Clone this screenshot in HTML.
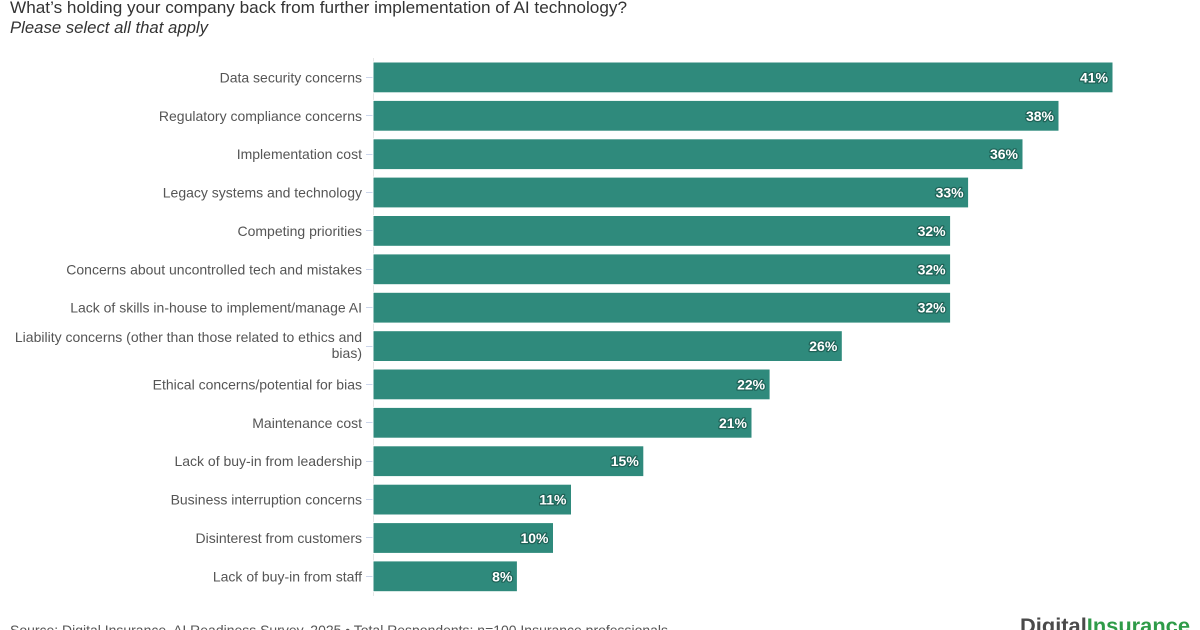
<!DOCTYPE html>
<html>
<head>
<meta charset="utf-8">
<style>
  html,body{margin:0;padding:0;background:#fff;}
  svg{display:block;}
  .cat{font-family:"Liberation Sans",sans-serif;font-size:14px;fill:#555;text-anchor:end;}
  .val{font-family:"Liberation Sans",sans-serif;font-size:14px;font-weight:bold;fill:#fff;stroke:#1f6358;stroke-width:2.5px;paint-order:stroke;stroke-linejoin:round;text-anchor:end;}
  .bar{fill:#2f8a7c;stroke:#fff;stroke-width:1;}
</style>
</head>
<body>
<svg width="1200" height="630" viewBox="0 0 1200 630" xmlns="http://www.w3.org/2000/svg">
  <rect width="1200" height="630" fill="#fff"/>
  <text x="10" y="13" font-family="Liberation Sans, sans-serif" font-size="17" fill="#333" textLength="617" lengthAdjust="spacingAndGlyphs">What’s holding your company back from further implementation of AI technology?</text>
  <text x="10" y="33" font-family="Liberation Sans, sans-serif" font-size="17" font-style="italic" fill="#333" textLength="198" lengthAdjust="spacingAndGlyphs">Please select all that apply</text>

  <!-- axis line -->
  <line x1="373.5" y1="58" x2="373.5" y2="596" stroke="#e6e6e6" stroke-width="1"/>

  <g>
    <!-- ticks -->
    <g stroke="#ccd6eb" stroke-width="1">
      <line x1="366" x2="373" y1="77.5" y2="77.5"/>
      <line x1="366" x2="373" y1="115.5" y2="115.5"/>
      <line x1="366" x2="373" y1="154.5" y2="154.5"/>
      <line x1="366" x2="373" y1="192.5" y2="192.5"/>
      <line x1="366" x2="373" y1="230.5" y2="230.5"/>
      <line x1="366" x2="373" y1="269.5" y2="269.5"/>
      <line x1="366" x2="373" y1="307.5" y2="307.5"/>
      <line x1="366" x2="373" y1="346.5" y2="346.5"/>
      <line x1="366" x2="373" y1="384.5" y2="384.5"/>
      <line x1="366" x2="373" y1="422.5" y2="422.5"/>
      <line x1="366" x2="373" y1="461.5" y2="461.5"/>
      <line x1="366" x2="373" y1="499.5" y2="499.5"/>
      <line x1="366" x2="373" y1="537.5" y2="537.5"/>
      <line x1="366" x2="373" y1="576.5" y2="576.5"/>
    </g>

    <!-- bars: x=373, width = 18.05*v -->
    <rect class="bar" x="373" y="62" width="740" height="30.8"/>
    <rect class="bar" x="373" y="100.4" width="686" height="30.8"/>
    <rect class="bar" x="373" y="138.8" width="650" height="30.8"/>
    <rect class="bar" x="373" y="177.1" width="595.6" height="30.8"/>
    <rect class="bar" x="373" y="215.5" width="577.6" height="30.8"/>
    <rect class="bar" x="373" y="253.9" width="577.6" height="30.8"/>
    <rect class="bar" x="373" y="292.3" width="577.6" height="30.8"/>
    <rect class="bar" x="373" y="330.7" width="469.3" height="30.8"/>
    <rect class="bar" x="373" y="369" width="397.1" height="30.8"/>
    <rect class="bar" x="373" y="407.4" width="379" height="30.8"/>
    <rect class="bar" x="373" y="445.8" width="270.8" height="30.8"/>
    <rect class="bar" x="373" y="484.2" width="198.5" height="30.8"/>
    <rect class="bar" x="373" y="522.6" width="180.5" height="30.8"/>
    <rect class="bar" x="373" y="560.9" width="144.4" height="30.8"/>

    <!-- values -->
    <text class="val" x="1108" y="82.5">41%</text>
    <text class="val" x="1054" y="120.8">38%</text>
    <text class="val" x="1018" y="159.2">36%</text>
    <text class="val" x="963.6" y="197.6">33%</text>
    <text class="val" x="945.6" y="236">32%</text>
    <text class="val" x="945.6" y="274.3">32%</text>
    <text class="val" x="945.6" y="312.7">32%</text>
    <text class="val" x="837.3" y="351.1">26%</text>
    <text class="val" x="765.1" y="389.5">22%</text>
    <text class="val" x="747" y="427.9">21%</text>
    <text class="val" x="638.8" y="466.2">15%</text>
    <text class="val" x="566.5" y="504.6">11%</text>
    <text class="val" x="548.5" y="543">10%</text>
    <text class="val" x="512.4" y="581.4">8%</text>

    <!-- categories -->
    <text class="cat" x="362" y="82.5">Data security concerns</text>
    <text class="cat" x="362" y="120.8">Regulatory compliance concerns</text>
    <text class="cat" x="362" y="159.2">Implementation cost</text>
    <text class="cat" x="362" y="197.6">Legacy systems and technology</text>
    <text class="cat" x="362" y="236">Competing priorities</text>
    <text class="cat" x="362" y="274.3">Concerns about uncontrolled tech and mistakes</text>
    <text class="cat" x="362" y="312.7">Lack of skills in-house to implement/manage AI</text>
    <text class="cat" x="362" y="342">Liability concerns (other than those related to ethics and</text>
    <text class="cat" x="362" y="358">bias)</text>
    <text class="cat" x="362" y="389.5">Ethical concerns/potential for bias</text>
    <text class="cat" x="362" y="427.9">Maintenance cost</text>
    <text class="cat" x="362" y="466.2">Lack of buy-in from leadership</text>
    <text class="cat" x="362" y="504.6">Business interruption concerns</text>
    <text class="cat" x="362" y="543">Disinterest from customers</text>
    <text class="cat" x="362" y="581.4">Lack of buy-in from staff</text>
  </g>

  <!-- footer -->
  <text x="10" y="635" font-family="Liberation Sans, sans-serif" font-size="14" fill="#555" textLength="658" lengthAdjust="spacingAndGlyphs">Source: Digital Insurance, AI Readiness Survey, 2025 • Total Respondents: n=100 Insurance professionals</text>
  <text x="1020" y="633" font-family="Liberation Sans, sans-serif" font-size="21" font-weight="bold" textLength="170" lengthAdjust="spacingAndGlyphs"><tspan fill="#4a4a4a">Digital</tspan><tspan fill="#2e9b48">Insurance</tspan></text>
</svg>
</body>
</html>
